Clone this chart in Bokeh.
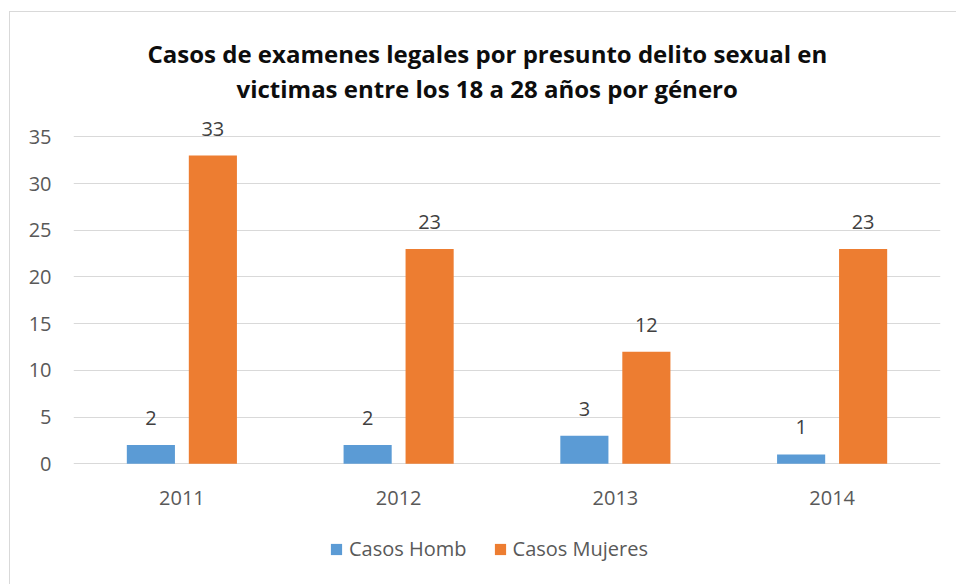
from bokeh.plotting import figure
from bokeh.models import ColumnDataSource, FactorRange, Range1d, FixedTicker, Legend, LegendItem, Title
from bokeh.transform import dodge
from bokeh.core.properties import value
from bokeh.embed import file_html
from bokeh.resources import INLINE

years = ["2011", "2012", "2013", "2014"]
casos_homb = [2, 2, 3, 1]
casos_mujeres = [33, 23, 12, 23]
y_ticks = [0, 5, 10, 15, 20, 25, 30, 35]
title_line1 = "Casos de examenes legales por presunto delito sexual en"
title_line2 = "victimas entre los 18 a 28 años por género"

FONT = "Open Sans"
BLUE = "#5B9BD5"
ORANGE = "#ED7D31"

src = ColumnDataSource(dict(
    year=years,
    homb=casos_homb,
    muj=casos_mujeres,
    base=[0] * len(years),
    homb_lbl=[str(v) for v in casos_homb],
    muj_lbl=[str(v) for v in casos_mujeres],
))

W, H = 956, 584
p = figure(
    x_range=FactorRange(*years),
    y_range=Range1d(-12.5, 37.5),
    width=W, height=H,
    output_backend="svg",
    toolbar_location=None,
    title=None,
    min_border_left=73, min_border_right=W - 940, min_border_top=113, min_border_bottom=H - 580,
    styles={"box-shadow": "inset 9px 11px 0 0 #ffffff, inset 10px 12px 0 0 #d9d9d9"},
)
p.border_fill_color = None
p.background_fill_color = None

t2 = Title(text=title_line2, align="left", offset=163, text_font=FONT, text_font_size="24px",
           text_font_style="bold", text_color="#0d0d0d", standoff=17)
t1 = Title(text=title_line1, align="left", offset=74, text_font=FONT, text_font_size="24px",
           text_font_style="bold", text_color="#0d0d0d", standoff=-16)
p.add_layout(t2, "above")
p.add_layout(t1, "above")

p.outline_line_color = None
p.xgrid.grid_line_color = None
p.ygrid.grid_line_color = "#d9d9d9"
p.ygrid.grid_line_width = 1

p.yaxis.ticker = FixedTicker(ticks=y_ticks)
p.yaxis.axis_line_color = None
p.yaxis.major_tick_line_color = None
p.yaxis.minor_tick_line_color = None
p.yaxis.major_label_text_font = FONT
p.yaxis.major_label_text_font_size = "20px"
p.yaxis.major_label_text_color = "#595959"
p.yaxis.major_label_standoff = 16

# category labels drawn at the zero line, below it
p.xaxis.visible = False
p.text(x="year", y="base", text="year", source=src,
       text_align="center", text_baseline="middle", y_offset=34,
       text_font=value(FONT), text_font_size="20px", text_color="#595959")

w = 0.222
off = 0.143
r1 = p.vbar(x=dodge("year", -off, range=p.x_range), top="homb", width=w, source=src,
            fill_color=BLUE, line_color=None)
r2 = p.vbar(x=dodge("year", off, range=p.x_range), top="muj", width=w, source=src,
            fill_color=ORANGE, line_color=None)

p.text(x=dodge("year", -off, range=p.x_range), y="homb", text="homb_lbl", source=src,
       text_align="center", text_baseline="bottom", y_offset=-20,
       text_font=value(FONT), text_font_size="20px", text_color="#404040")
p.text(x=dodge("year", off, range=p.x_range), y="muj", text="muj_lbl", source=src,
       text_align="center", text_baseline="bottom", y_offset=-20,
       text_font=value(FONT), text_font_size="20px", text_color="#404040")

legend = Legend(items=[LegendItem(label="Casos Homb", renderers=[r1]),
                       LegendItem(label="Casos Mujeres", renderers=[r2])],
                orientation="horizontal", location=(256, 18))
legend.label_text_font = FONT
legend.label_text_font_size = "20px"
legend.label_text_color = "#595959"
legend.glyph_width = 14
legend.glyph_height = 14
legend.label_height = 20
legend.spacing = 26
legend.label_standoff = 6
legend.border_line_color = None
legend.background_fill_color = None
legend.background_fill_alpha = 0
legend.margin = 0
legend.padding = 0
p.add_layout(legend, "center")

open("out.html", "w").write(file_html(p, INLINE))
